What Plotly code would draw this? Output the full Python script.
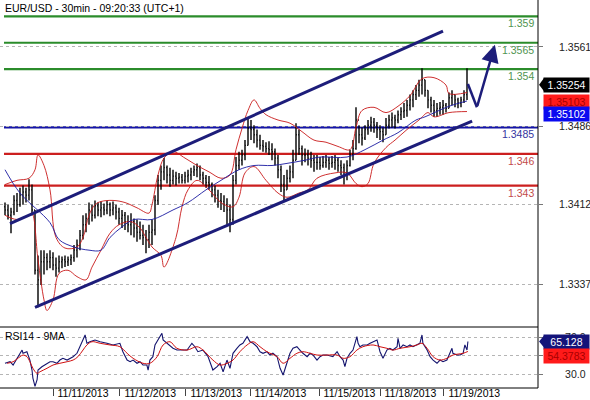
import plotly.graph_objects as go

FONT = "Arial, Liberation Sans, sans-serif"

title = "EUR/USD - 30min - 09:20:33 (UTC+1)"
panel_label = "RSI14 - 9MA"
day_labels = ["11/11/2013", "11/12/2013", "11/13/2013", "11/14/2013",
              "11/15/2013", "11/18/2013", "11/19/2013"]
day_start_bar = [16, 38.3, 60.3, 81.7, 104.7, 125, 146.3]

first_open = 1.3410
high = [1.3414,1.3412,1.3409,1.3421,1.3423,1.3428,1.3430,1.3428,1.3436,1.3431,
        1.3407,1.3364,1.3369,1.3369,1.3366,1.3369,1.3367,1.3362,1.3364,1.3363,
        1.3364,1.3363,1.3365,1.3374,1.3379,1.3388,1.3402,1.3404,1.3414,1.3412,
        1.3416,1.3414,1.3415,1.3413,1.3416,1.3414,1.3415,1.3412,1.3409,1.3407,
        1.3405,1.3402,1.3404,1.3399,1.3398,1.3396,1.3393,1.3388,1.3393,1.3398,
        1.3421,1.3440,1.3449,1.3456,1.3449,1.3447,1.3445,1.3443,1.3442,1.3441,
        1.3443,1.3445,1.3447,1.3449,1.3451,1.3449,1.3443,1.3440,1.3439,1.3433,
        1.3430,1.3426,1.3423,1.3421,1.3418,1.3412,1.3440,1.3457,1.3462,1.3464,
        1.3473,1.3494,1.3492,1.3487,1.3483,1.3478,1.3473,1.3471,1.3472,1.3470,
        1.3465,1.3459,1.3449,1.3440,1.3445,1.3449,1.3464,1.3489,1.3483,1.3468,
        1.3465,1.3464,1.3462,1.3459,1.3459,1.3457,1.3458,1.3459,1.3457,1.3458,
        1.3459,1.3456,1.3454,1.3451,1.3454,1.3464,1.3473,1.3504,1.3487,1.3485,
        1.3487,1.3492,1.3495,1.3494,1.3490,1.3487,1.3485,1.3494,1.3497,1.3499,
        1.3497,1.3501,1.3504,1.3508,1.3511,1.3516,1.3520,1.3525,1.3530,1.3541,
        1.3530,1.3520,1.3514,1.3511,1.3508,1.3509,1.3511,1.3508,1.3518,1.3520,
        1.3516,1.3513,1.3514,1.3520,1.3541]
low = [1.3402,1.3398,1.3385,1.3402,1.3405,1.3410,1.3412,1.3414,1.3416,1.3402,
       1.3346,1.3315,1.3336,1.3346,1.3350,1.3352,1.3350,1.3344,1.3348,1.3352,
       1.3353,1.3354,1.3355,1.3358,1.3362,1.3369,1.3379,1.3386,1.3393,1.3396,
       1.3399,1.3401,1.3400,1.3402,1.3403,1.3401,1.3402,1.3398,1.3393,1.3390,
       1.3388,1.3386,1.3383,1.3381,1.3377,1.3379,1.3374,1.3366,1.3371,1.3374,
       1.3383,1.3412,1.3426,1.3435,1.3432,1.3429,1.3431,1.3430,1.3432,1.3432,
       1.3432,1.3433,1.3435,1.3439,1.3438,1.3435,1.3431,1.3428,1.3426,1.3419,
       1.3414,1.3409,1.3407,1.3405,1.3393,1.3386,1.3393,1.3431,1.3445,1.3449,
       1.3454,1.3468,1.3473,1.3470,1.3466,1.3464,1.3462,1.3461,1.3459,1.3454,
       1.3449,1.3437,1.3424,1.3416,1.3426,1.3433,1.3437,1.3454,1.3459,1.3449,
       1.3452,1.3449,1.3447,1.3443,1.3445,1.3445,1.3447,1.3447,1.3445,1.3447,
       1.3445,1.3443,1.3440,1.3431,1.3435,1.3448,1.3454,1.3464,1.3470,1.3468,
       1.3473,1.3478,1.3481,1.3480,1.3475,1.3473,1.3471,1.3478,1.3484,1.3485,
       1.3484,1.3489,1.3492,1.3494,1.3495,1.3501,1.3504,1.3511,1.3514,1.3516,
       1.3514,1.3503,1.3499,1.3495,1.3495,1.3497,1.3497,1.3499,1.3503,1.3506,
       1.3504,1.3503,1.3504,1.3508,1.3511]
close = [1.3407,1.3402,1.3405,1.3416,1.3412,1.3421,1.3424,1.3421,1.3426,1.3407,
         1.3350,1.3341,1.3358,1.3362,1.3358,1.3362,1.3355,1.3352,1.3358,1.3360,
         1.3358,1.3360,1.3362,1.3369,1.3374,1.3383,1.3393,1.3399,1.3407,1.3402,
         1.3411,1.3407,1.3409,1.3407,1.3412,1.3407,1.3409,1.3405,1.3399,1.3402,
         1.3396,1.3393,1.3396,1.3390,1.3386,1.3383,1.3381,1.3379,1.3386,1.3388,
         1.3416,1.3435,1.3443,1.3447,1.3440,1.3435,1.3439,1.3437,1.3438,1.3435,
         1.3439,1.3440,1.3443,1.3445,1.3447,1.3440,1.3437,1.3433,1.3431,1.3426,
         1.3421,1.3416,1.3415,1.3412,1.3407,1.3398,1.3435,1.3449,1.3454,1.3459,
         1.3468,1.3484,1.3483,1.3478,1.3473,1.3468,1.3467,1.3465,1.3464,1.3462,
         1.3456,1.3445,1.3431,1.3426,1.3437,1.3443,1.3454,1.3478,1.3465,1.3459,
         1.3459,1.3456,1.3454,1.3452,1.3452,1.3449,1.3452,1.3454,1.3451,1.3452,
         1.3454,1.3449,1.3447,1.3440,1.3449,1.3459,1.3465,1.3492,1.3478,1.3475,
         1.3483,1.3487,1.3490,1.3487,1.3483,1.3481,1.3478,1.3487,1.3492,1.3494,
         1.3492,1.3497,1.3500,1.3501,1.3506,1.3511,1.3516,1.3520,1.3525,1.3530,
         1.3520,1.3511,1.3506,1.3501,1.3503,1.3504,1.3506,1.3503,1.3513,1.3516,
         1.3511,1.3508,1.3511,1.3516,1.3525]

bbu_x = [0,4,8,10,11,13,15,17,20,24,26,28,30,32,36,40,44,48,49,51,53,56,60,64,68,72,
         75,77,79,81,83,85,87,91,95,99,103,107,111,115,117,119,123,127,131,135,139,143,
         147,148,154]
bb_upper = [1.3431,1.3435,1.3437,1.3445,1.3459,1.3449,1.3426,1.3381,1.3371,1.3372,
            1.3381,1.3402,1.3412,1.3415,1.3416,1.3414,1.3409,1.3404,1.3412,1.3440,
            1.3456,1.3462,1.3456,1.3449,1.3443,1.3437,1.3440,1.3464,1.3484,1.3501,
            1.3511,1.3503,1.3497,1.3492,1.3489,1.3481,1.3473,1.3471,1.3467,1.3464,
            1.3485,1.3501,1.3504,1.3499,1.3505,1.3515,1.3531,1.3532,1.3525,1.3517,
            1.3518]
bbl_x = [0,4,8,9,11,13,14,16,18,21,24,27,29,32,35,38,42,45,47,49,52,53,57,59,61,64,
         68,72,76,78,80,83,87,91,94,98,101,104,110,114,117,119,121,123,127,130,134,138,
         141,143,148,154]
bb_lower = [1.3402,1.3398,1.3402,1.3404,1.3360,1.3322,1.3312,1.3322,1.3347,1.3350,
            1.3344,1.3341,1.3353,1.3369,1.3385,1.3393,1.3396,1.3390,1.3381,1.3372,
            1.3364,1.3353,1.3381,1.3410,1.3426,1.3435,1.3426,1.3414,1.3410,1.3419,
            1.3442,1.3448,1.3435,1.3423,1.3419,1.3423,1.3426,1.3437,1.3442,1.3442,
            1.3432,1.3429,1.3432,1.3451,1.3466,1.3473,1.3483,1.3492,1.3499,1.3495,
            1.3499,1.3500]
ma_x = [0,5,15,18,23,28,32,35,39,43,49,56,61,67,72,78,83,89,94,100,105,114,120,126,
        131,137,140,148,154]
ma = [1.3445,1.3423,1.3395,1.3379,1.3372,1.3369,1.3369,1.3381,1.3391,1.3398,
      1.3398,1.3407,1.3414,1.3426,1.3435,1.3445,1.3449,1.3449,1.3451,1.3454,
      1.3457,1.3457,1.3464,1.3473,1.3480,1.3492,1.3495,1.3505,1.3510]

rsi_x = [0.0,1.7,2.7,4.0,5.0,5.7,6.0,7.3,8.3,9.0,
         9.3,10.0,10.7,11.0,12.3,14.0,15.0,16.0,17.3,18.3,
         19.3,20.7,21.7,22.7,24.0,25.0,26.0,26.7,27.3,28.3,
         30.0,31.7,34.0,36.0,38.3,39.3,40.7,41.7,42.7,44.0,
         45.0,46.0,47.3,47.7,48.3,49.3,50.0,51.0,52.3,52.7,
         54.0,55.0,56.0,57.3,59.0,60.7,62.3,63.3,64.3,66.0,
         67.7,69.3,70.7,71.7,72.7,74.0,75.0,76.0,77.3,78.3,
         79.3,80.7,81.7,82.7,84.0,85.0,86.0,87.3,88.3,89.3,
         90.7,91.7,92.7,94.0,95.0,96.0,97.3,98.3,99.3,100.7,
         101.7,102.7,104.0,105.0,106.0,107.3,109.3,110.7,111.7,112.7,
         113.3,114.0,115.0,116.0,116.7,117.3,117.7,118.3,119.3,120.7,
         121.7,122.7,124.0,124.3,125.0,126.0,126.7,127.3,128.3,129.3,
         130.7,131.0,131.7,132.7,134.0,135.0,136.0,137.3,138.3,139.0,
         139.3,140.7,141.7,142.7,144.0,145.0,146.0,147.3,148.3,149.0,
         149.3,150.7,151.7,152.7,153.3,154.0,154.3]
rsi = [41.6,43.3,39.7,47.0,52.4,55.9,52.4,54.1,45.1,34.3,
       25.6,16.7,23.8,34.3,37.9,41.6,43.3,43.3,41.6,45.1,
       47.0,45.1,47.0,48.7,52.4,59.5,66.8,72.2,63.2,64.9,
       66.8,64.9,63.2,61.4,63.2,54.1,45.1,43.3,45.1,41.6,
       43.3,39.7,39.7,34.3,45.1,48.7,61.4,66.8,74.0,66.8,
       63.2,61.4,57.8,55.9,55.9,55.9,63.2,59.5,54.1,55.9,
       48.7,34.3,37.9,41.6,32.5,45.1,36.2,52.4,57.8,61.4,
       63.2,70.4,64.9,63.2,59.5,54.1,52.4,54.1,50.5,52.4,
       48.7,36.2,28.9,41.6,52.4,57.8,59.5,55.9,52.4,48.7,
       52.4,50.5,45.1,48.7,50.5,50.5,48.7,54.1,48.7,45.1,
       37.9,47.0,52.4,55.9,63.2,70.4,63.2,59.5,61.4,61.4,
       63.2,64.9,66.8,63.2,54.1,47.0,52.4,55.9,57.8,55.9,
       59.5,68.6,57.8,61.4,59.5,61.4,59.5,61.4,63.2,72.2,
       63.2,55.9,48.7,45.1,41.6,45.1,43.3,45.1,52.4,57.8,
       52.4,50.5,50.5,52.4,61.4,55.9,65.1]
rsima_x = [0.7,2.7,5.0,6.0,7.3,8.3,9.3,10.7,11.7,14.0,
           16.0,18.3,20.7,22.7,24.3,26.0,27.3,29.0,31.7,35.0,
           38.3,40.7,42.7,46.0,48.3,50.7,52.7,55.0,57.3,60.7,
           64.0,66.0,69.3,71.7,74.0,76.0,78.3,80.7,82.7,85.0,
           87.3,90.7,92.7,95.0,97.3,99.3,101.7,104.0,107.3,110.7,
           112.7,115.0,117.3,119.3,122.7,125.0,127.3,129.3,131.7,135.0,
           137.3,139.0,140.7,142.7,145.0,147.3,149.3,152.7,154.3]
rsi_ma = [41.6,43.3,48.7,50.5,48.7,43.3,36.2,30.7,32.5,36.2,
          39.7,41.6,43.3,45.1,48.7,55.9,61.4,64.9,63.2,61.4,
          59.5,52.4,47.0,41.6,41.6,48.7,61.4,64.9,57.8,55.9,
          59.5,55.9,45.1,39.7,41.6,45.1,54.1,61.4,64.9,59.5,
          54.1,48.7,41.6,47.0,52.4,54.1,52.4,50.5,50.5,50.5,
          47.0,48.7,55.9,59.5,61.4,59.5,57.8,55.9,57.8,59.5,
          61.4,63.2,57.8,48.7,45.1,47.0,50.5,52.4,54.4]

levels = [1.359, 1.3565, 1.354, 1.3485, 1.346, 1.343]
level_text = ["1.359", "1.3565", "1.354", "1.3485", "1.346", "1.343"]
level_kind = ["res", "res", "res", "pivot", "sup", "sup"]

chan_up_x, chan_up_y = [1.67, 146.0], [1.3394, 1.3576]
chan_lo_x, chan_lo_y = [10.0, 155.7], [1.3315, 1.3491]
fc_x, fc_y = [154.3, 157.3, 163.3], [1.3526, 1.3504, 1.3563]

price_ticks = [1.3561, 1.3486, 1.3412, 1.3337]
rsi_ticks = [30, 50, 70]
rsi_tick_text = ["30.0", "", "70.0"]
last_price, bb_mid_last, ma_last = 1.35254, 1.35103, 1.35102
rsi_last, rsi_ma_last = 65.128, 54.3783

KIND_COL = {"res": ("#2b8c2b", "#4f944f"), "pivot": ("#1515a6", "#3434a0"),
            "sup": ("#cc1f1f", "#c24a4a")}
NAVY = "#1d1d7a"
SPLIT = 61 / 388

opens = [first_open] + close[:-1]
bars = list(range(len(close)))

fig = go.Figure()
fig.add_trace(go.Ohlc(x=bars, open=opens, high=high, low=low, close=close,
                      increasing=dict(line=dict(color="black", width=1.4)),
                      decreasing=dict(line=dict(color="black", width=1.4)),
                      tickwidth=0.3, showlegend=False, hoverinfo="skip"))
fig.add_trace(go.Scatter(x=bbu_x, y=bb_upper, mode="lines", line=dict(color="#c81818", width=0.9, shape="spline"), hoverinfo="skip"))
fig.add_trace(go.Scatter(x=bbl_x, y=bb_lower, mode="lines", line=dict(color="#c81818", width=0.9, shape="spline"), hoverinfo="skip"))
fig.add_trace(go.Scatter(x=ma_x, y=ma, mode="lines", line=dict(color="#1a1aa0", width=0.9, shape="spline"), hoverinfo="skip"))
fig.add_trace(go.Scatter(x=chan_up_x, y=chan_up_y, mode="lines", line=dict(color=NAVY, width=3), hoverinfo="skip"))
fig.add_trace(go.Scatter(x=chan_lo_x, y=chan_lo_y, mode="lines", line=dict(color=NAVY, width=3), hoverinfo="skip"))
fig.add_trace(go.Scatter(x=fc_x[:2], y=fc_y[:2], mode="lines", line=dict(color=NAVY, width=2.5), hoverinfo="skip"))
fig.add_trace(go.Scatter(x=rsi_x, y=rsi, mode="lines", line=dict(color="#14146e", width=1.1), yaxis="y2", hoverinfo="skip"))
fig.add_trace(go.Scatter(x=rsima_x, y=rsi_ma, mode="lines", line=dict(color="#d01010", width=1.0, shape="spline"), yaxis="y2", hoverinfo="skip"))

fig.add_annotation(x=fc_x[2], y=fc_y[2], ax=fc_x[1], ay=fc_y[1], xref="x", yref="y",
                   axref="x", ayref="y", text="", showarrow=True, arrowhead=2,
                   arrowsize=1.4, arrowwidth=2.5, arrowcolor=NAVY, standoff=0)

for lv, txt, kind in zip(levels, level_text, level_kind):
    lc, tc = KIND_COL[kind]
    fig.add_shape(type="line", xref="paper", yref="y", x0=4 / 538, x1=1, y0=lv, y1=lv,
                  line=dict(color=lc, width=2.2), layer="below")
    fig.add_annotation(xref="paper", x=1, xanchor="right", xshift=-2, y=lv, yref="y",
                       yshift=-7, text=txt, showarrow=False,
                       font=dict(size=10.5, color=tc, family=FONT))

# frame lines
for (x0, y0, x1, y1) in [(1, 0, 1, 1), (0, 0, 1, 0), (0, SPLIT, 1, SPLIT)]:
    fig.add_shape(type="line", xref="paper", yref="paper", x0=x0, y0=y0, x1=x1, y1=y1,
                  line=dict(color="black", width=1))

fig.add_annotation(xref="paper", yref="paper", x=0, y=1, xanchor="left", yanchor="top",
                   xshift=3, yshift=0, text=title, showarrow=False,
                   font=dict(size=10.5, color="black", family=FONT))
fig.add_annotation(xref="paper", yref="paper", x=0, y=SPLIT, xanchor="left", yanchor="top",
                   xshift=3, yshift=-1, text=panel_label, showarrow=False,
                   font=dict(size=10.5, color="black", family=FONT))


def side_label(val, yref, bg, fg, yshift=0, arrow=False, half=None, text=None):
    fig.add_annotation(xref="paper", x=1, xanchor="left", xshift=5, y=val, yref=yref,
                       yshift=yshift, text=text, showarrow=False, bgcolor=bg,
                       font=dict(size=10.5, color=fg, family=FONT), borderpad=1,
                       width=43, height=12, align="center")
    if arrow:
        fig.add_shape(type="path", xref="paper", yref=yref, fillcolor=bg, line=dict(width=0),
                      path=f"M 1.002,{val} L 1.0112,{val + half} L 1.0112,{val - half} Z")


side_label(last_price, "y", "#000000", "white", arrow=True, half=0.00062, text=f"{last_price:.5f}")
side_label(bb_mid_last, "y", "#ff1a1a", "#a80000", yshift=-1, text=f"{bb_mid_last:.5f}")
side_label(ma_last, "y", "#0a0af0", "white", yshift=-13, text=f"{ma_last:.5f}")
side_label(rsi_last, "y2", "#14147a", "white", arrow=True, half=6.5, text=f"{rsi_last:.3f}")
side_label(rsi_ma_last, "y2", "#ff1a1a", "#a80000", yshift=-5, text=f"{rsi_ma_last:.4f}")

fig.update_layout(
    width=590, height=400, margin=dict(l=0, r=52, t=0, b=12, autoexpand=False),
    paper_bgcolor="white", plot_bgcolor="white", showlegend=False,
    font=dict(family=FONT, size=10.5, color="black"),
    xaxis=dict(range=[-1.667, 177.667], anchor="y2", tickvals=day_start_bar,
               ticktext=day_labels, ticks="outside", ticklen=7, tickcolor="#444",
               ticklabelposition="outside right", tickangle=0, automargin=False,
               ticklabelstandoff=-5, ticklabelshift=4,
               showgrid=False, zeroline=False,
               showline=False, rangeslider=dict(visible=False),
               tickfont=dict(size=10.5, color="black", family=FONT)),
    yaxis=dict(domain=[SPLIT, 1], range=[1.32964, 1.36054], side="right", anchor="x",
               tickvals=price_ticks, ticktext=[f"{v:.4f}" for v in price_ticks],
               showgrid=True, gridcolor="#b5b5b5", griddash="dot", gridwidth=1,
               ticks="outside", ticklen=4, tickcolor="#777", zeroline=False,
               showline=False, ticklabelstandoff=14, automargin=False,
               tickfont=dict(size=10.5, color="#222", family=FONT)),
    yaxis2=dict(domain=[0, SPLIT], range=[14.9, 80.8], side="right", anchor="x",
                tickvals=rsi_ticks, ticktext=rsi_tick_text, showgrid=True,
                gridcolor="#b5b5b5", griddash="dot", gridwidth=1, ticks="outside",
                ticklen=4, tickcolor="#777", zeroline=False, showline=False,
                ticklabelstandoff=20, automargin=False,
                tickfont=dict(size=10.5, color="#222", family=FONT)),
)

fig.write_html("out.html")
